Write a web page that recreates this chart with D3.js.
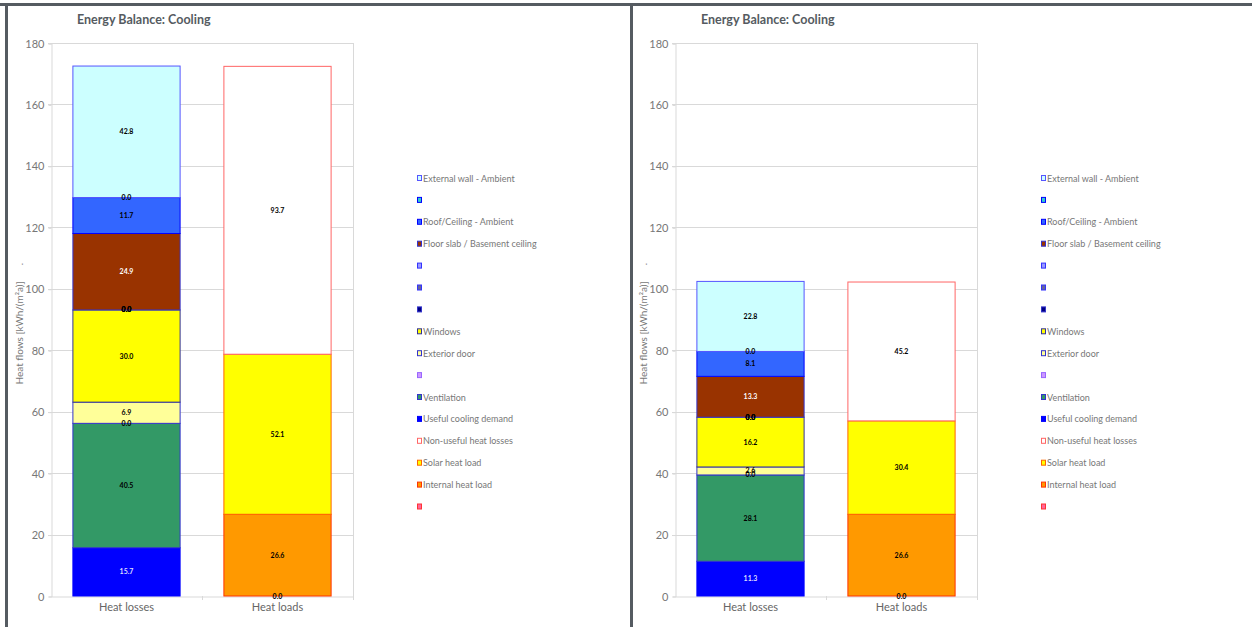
<!DOCTYPE html>
<html>
<head>
<meta charset="utf-8">
<script src="https://cdn.jsdelivr.net/npm/d3@7/dist/d3.min.js"></script>
<style>
  html, body { margin: 0; padding: 0; background: #fff; }
  svg { display: block; }
  text { font-family: Lato, "Open Sans", sans-serif; }
</style>
</head>
<body>
<svg id="chart" width="1252" height="627"></svg>
<script>
// Categories on the x axis
const categories = ["Heat losses", "Heat loads"];

// Series, listed from the bottom of the stack to the top
const seriesNames = [
  "", "Internal heat load", "Solar heat load", "Non-useful heat losses",
  "Useful cooling demand", "Ventilation", "", "Exterior door", "Windows",
  "", "", "", "Floor slab / Basement ceiling", "Roof/Ceiling - Ambient", "",
  "External wall - Ambient"
];

// Values per series: [Heat losses, Heat loads]; null = not part of that column
const caseA = [
  [null, 0.0], [null, 26.6], [null, 52.1], [null, 93.7],
  [15.7, null], [40.5, null], [0.0, null], [6.9, null], [30.0, null],
  [0.0, null], [0.0, null], [0.0, null], [24.9, null], [11.7, null], [0.0, null],
  [42.8, null]
];
const caseB = [
  [null, 0.0], [null, 26.6], [null, 30.4], [null, 45.2],
  [11.3, null], [28.1, null], [0.0, null], [2.6, null], [16.2, null],
  [0.0, null], [0.0, null], [0.0, null], [13.3, null], [8.1, null], [0.0, null],
  [22.8, null]
];

const yTicks = [0, 20, 40, 60, 80, 100, 120, 140, 160, 180];
const chartTitle = "Energy Balance: Cooling";
const yTitle = "Heat flows [kWh/(m\u00b2a)]";

// Styling per series (same order as seriesNames)
const fills = [
  "#FF6699", "#FF9900", "#FFFF00", "#FFFFFF",
  "#0000FF", "#339966", "#CC99FF", "#FFFF99", "#FFFF00",
  "#000080", "#666699", "#9999FF", "#993300", "#3366FF", "#33CCCC",
  "#CCFFFF"
];
const strokes = [
  "#FF3333", "#FF3300", "#FF6600", "#FF6666",
  "#0000FF", "#3333CC", "#9966FF", "#3333CC", "#333399",
  "#3333CC", "#3333FF", "#3333FF", "#3333CC", "#0000FF", "#0000FF",
  "#5555FF"
];
const labelColors = [
  "#000", "#000", "#000", "#000",
  "#DDDDFF", "#000", "#000", "#000", "#000",
  "#000", "#000", "#000", "#FFFFFF", "#000", "#000",
  "#000"
];

const svg = d3.select("#chart");

// Frame lines
svg.append("rect").attr("x", 0).attr("y", 3).attr("width", 1252).attr("height", 3).attr("fill", "#555B61");
svg.append("rect").attr("x", 5).attr("y", 3).attr("width", 3).attr("height", 624).attr("fill", "#555B61");
svg.append("rect").attr("x", 630).attr("y", 3).attr("width", 3).attr("height", 624).attr("fill", "#555B61");

function drawPanel(dx, data) {
  const g = svg.append("g").attr("transform", `translate(${dx},0)`);
  const left = 51, right = 353, top = 43, bottom = 596;

  const x = d3.scaleBand().domain(categories).range([left, right]);
  const y = d3.scaleLinear().domain([0, 180]).range([bottom, top]);
  const barW = x.bandwidth() * 0.71;

  // Title
  g.append("text").attr("x", 77).attr("y", 24)
    .attr("font-size", 12.5).attr("font-weight", 700).attr("fill", "#555B61")
    .text(chartTitle);

  // Gridlines
  g.append("g").selectAll("line").data(yTicks.filter(t => t > 0)).join("line")
    .attr("x1", left - 3).attr("x2", right)
    .attr("y1", d => Math.round(y(d)) + 0.5).attr("y2", d => Math.round(y(d)) + 0.5)
    .attr("stroke", "#D9D9D9").attr("stroke-width", 1);

  // Y axis
  const yAxis = d3.axisLeft(y).tickValues(yTicks).tickSize(3).tickPadding(4);
  const ya = g.append("g").attr("transform", `translate(${left + 0.5},0.5)`).call(yAxis);
  ya.select(".domain").attr("stroke", "#D9D9D9");
  ya.selectAll(".tick line").attr("stroke", "#D9D9D9");
  ya.selectAll(".tick text").attr("fill", "#777").attr("font-size", 11)
    .attr("font-family", "Lato, sans-serif");

  // Right edge line
  g.append("line").attr("x1", right + 0.5).attr("x2", right + 0.5)
    .attr("y1", top).attr("y2", bottom + 4).attr("stroke", "#D9D9D9");

  // X axis
  const xAxis = d3.axisBottom(x).tickSize(0).tickPadding(7);
  const xa = g.append("g").attr("transform", `translate(0,${bottom + 0.5})`).call(xAxis);
  xa.select(".domain").attr("stroke", "#D9D9D9");
  xa.selectAll(".tick text").attr("fill", "#666").attr("font-size", 11)
    .attr("font-family", "Lato, sans-serif");
  // Category separator ticks
  g.append("line").attr("x1", x(categories[1]) + 0.5).attr("x2", x(categories[1]) + 0.5)
    .attr("y1", bottom).attr("y2", bottom + 4).attr("stroke", "#D9D9D9");

  // Y axis title
  g.append("text")
    .attr("transform", `translate(23,333) rotate(-90)`)
    .attr("text-anchor", "middle").attr("font-size", 10).attr("fill", "#777")
    .text(yTitle);
  g.append("text")
    .attr("transform", `translate(23,264) rotate(-90)`)
    .attr("text-anchor", "middle").attr("font-size", 10).attr("fill", "#777")
    .text(".");

  // Stacked bars
  categories.forEach((cat, ci) => {
    let base = 0;
    const cx = x(cat) + x.bandwidth() / 2;
    const segs = [];
    data.forEach((vals, si) => {
      const v = vals[ci];
      if (v === null) return;
      segs.push({ si, v, y0: base, y1: base + v });
      base += v;
    });
    g.append("g").selectAll("rect").data(segs).join("rect")
      .attr("x", cx - barW / 2).attr("width", barW)
      .attr("y", d => y(d.y1)).attr("height", d => y(d.y0) - y(d.y1))
      .attr("fill", d => fills[d.si]).attr("stroke", d => strokes[d.si])
      .attr("stroke-width", 1);
    g.append("g").selectAll("text").data(segs).join("text")
      .attr("x", cx).attr("y", d => y((d.y0 + d.y1) / 2) + 2.5)
      .attr("text-anchor", "middle")
      .attr("font-family", "'Liberation Sans', Arial, sans-serif")
      .attr("font-size", 7).attr("font-weight", 700)
      .attr("fill", d => labelColors[d.si])
      .text(d => d.v.toFixed(1));
  });

  // Legend: top of stack listed first
  const order = d3.range(seriesNames.length).reverse();
  const lg = g.append("g").selectAll("g").data(order).join("g")
    .attr("transform", (d, i) => `translate(417,${178 + i * 21.9})`);
  lg.append("rect").attr("x", 0.5).attr("y", -2.5).attr("width", 4).attr("height", 5)
    .attr("fill", d => fills[d]).attr("stroke", d => strokes[d]).attr("stroke-width", 1);
  lg.append("text").attr("x", 6).attr("y", 3.5)
    .attr("font-size", 9).attr("fill", "#777")
    .text(d => seriesNames[d]);
}

drawPanel(0, caseA);
drawPanel(624, caseB);
</script>
</body>
</html>
